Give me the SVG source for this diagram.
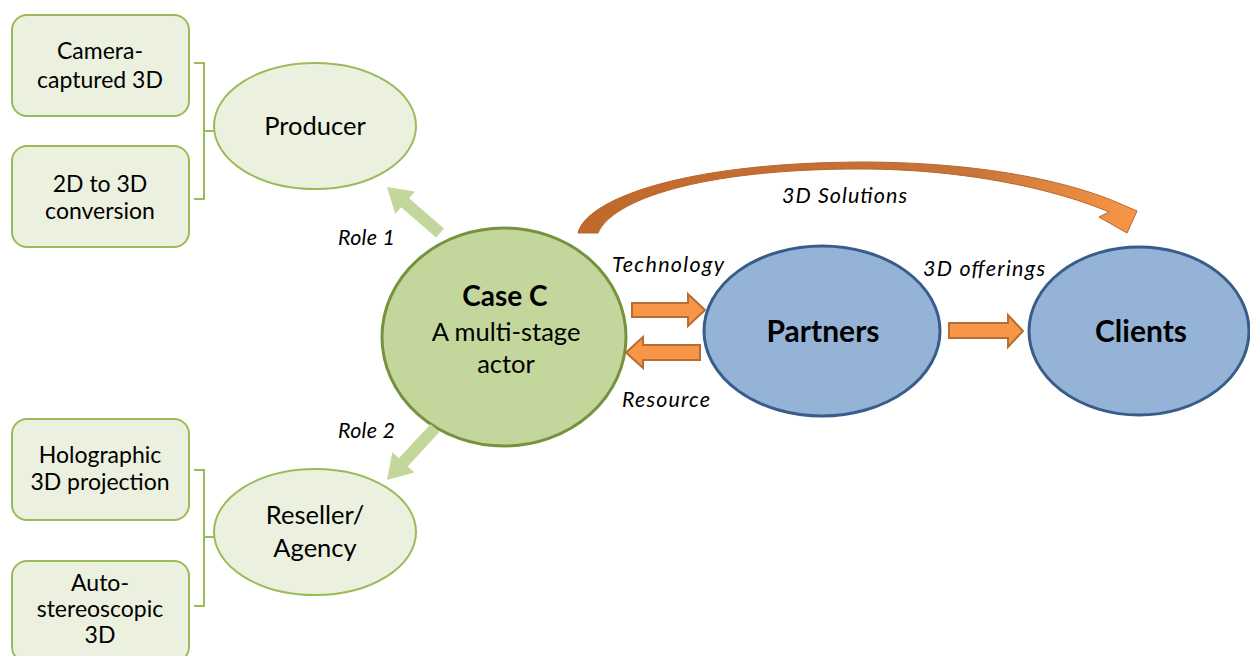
<svg xmlns="http://www.w3.org/2000/svg" width="1250" height="656" viewBox="0 0 1250 656">
  <defs>
    <style>
      text { font-family: Lato, "Liberation Sans", sans-serif; fill: #000; }
      .box { fill: #ebf1de; stroke: #9bbb59; stroke-width: 2; }
      .role { fill: #ebf1de; stroke: #9bbb59; stroke-width: 2; }
      .bracket { fill: none; stroke: #9bbb59; stroke-width: 2; }
      .core { fill: #c3d69b; stroke: #76923c; stroke-width: 3; }
      .blue { fill: #95b3d7; stroke: #385d8a; stroke-width: 3; }
      .t-box { font-size: 23px; text-anchor: middle; }
      .t-role { font-size: 25.5px; text-anchor: middle; }
      .t-big { font-size: 30px; font-weight: bold; text-anchor: middle; }
      .t-lbl { font-size: 21.5px; font-style: italic; }
      .blk { fill: #f79646; stroke: #b66d31; stroke-width: 2; stroke-linejoin: miter; }
      .grn { fill: #c3d69b; }
    </style>
    <linearGradient id="arcGrad" x1="578" y1="0" x2="1136" y2="0" gradientUnits="userSpaceOnUse">
      <stop offset="0" stop-color="#c0692b"/>
      <stop offset="0.7" stop-color="#c7743a"/>
      <stop offset="1" stop-color="#f79646"/>
    </linearGradient>
  </defs>

  <!-- technology boxes -->
  <g id="box-camera">
    <rect class="box" x="12" y="15" width="177" height="101" rx="15"/>
    <text class="t-box" x="100" y="59">Camera-</text>
    <text class="t-box" x="100" y="88">captured 3D</text>
  </g>
  <g id="box-conversion">
    <rect class="box" x="12" y="146" width="177" height="101" rx="15"/>
    <text class="t-box" x="100" y="192">2D to 3D</text>
    <text class="t-box" x="100" y="219">conversion</text>
  </g>
  <g id="box-holographic">
    <rect class="box" x="12" y="419" width="177" height="101" rx="15"/>
    <text class="t-box" x="100" y="463">Holographic</text>
    <text class="t-box" x="100" y="490">3D projection</text>
  </g>
  <g id="box-autostereo">
    <rect class="box" x="12" y="561" width="177" height="101" rx="15"/>
    <text class="t-box" x="100" y="591">Auto-</text>
    <text class="t-box" x="100" y="617">stereoscopic</text>
    <text class="t-box" x="100" y="643">3D</text>
  </g>

  <!-- role nodes -->
  <g id="node-producer">
    <ellipse class="role" cx="315" cy="126" rx="101" ry="63"/>
    <text class="t-role" x="315" y="135">Producer</text>
  </g>
  <g id="node-reseller">
    <ellipse class="role" cx="315" cy="532" rx="101" ry="63"/>
    <text class="t-role" x="315" y="524">Reseller/</text>
    <text class="t-role" x="315" y="557">Agency</text>
  </g>

  <!-- central actor -->
  <g id="node-casec">
    <ellipse class="core" cx="504" cy="337" rx="122" ry="109"/>
    <text x="505" y="306" style="font-size:28px;font-weight:bold;text-anchor:middle">Case C</text>
    <text class="t-role" x="506" y="341">A multi-stage</text>
    <text class="t-role" x="506" y="373">actor</text>
  </g>

  <g id="node-partners">
    <ellipse class="blue" cx="822" cy="331" rx="118" ry="85"/>
    <text class="t-big" x="823" y="342">Partners</text>
  </g>
  <g id="node-clients">
    <ellipse class="blue" cx="1139" cy="331" rx="110" ry="84"/>
    <text class="t-big" x="1141" y="342">Clients</text>
  </g>

  <!-- connectors -->
  <g id="connectors">
    <path class="bracket" d="M194,63 H204 V199 H194 M204,131 H214"/>
    <path class="bracket" d="M194,470 H204 V606 H194 M204,537 H214"/>

    <polygon class="grn" points="443.9,228.5 409,198.2 414.9,191.4 387,187 395.3,214 401.2,207.2 436.1,237.5"/>
    <polygon class="grn" points="439.4,432.1 407.7,466.5 414.3,472.6 387,480 392.3,452.2 398.9,458.3 430.6,423.9"/>

    <polygon class="blk" points="632,303 688,303 688,294 705,310 688,326 688,317 632,317"/>
    <polygon class="blk" points="700,345 643,345 643,337 626,352.5 643,368 643,360 700,360"/>
    <polygon class="blk" points="949,323 1008,323 1008,315 1023,331 1008,347 1008,338 949,338"/>

    <!-- curved "3D Solutions" arrow, tapering from its base to the head -->
    <path fill="url(#arcGrad)" stroke="#b8652a" stroke-width="1" stroke-linejoin="round"
          d="M578,233 C586,200 680,163 860,162 C980,162 1070,181 1123,205 L1137,211 L1127,233 L1099,217 L1109,212 C1060,191 970,169 860,169 C700,169 612,200 598,233 Z"/>

    <text class="t-lbl" x="338" y="245" textLength="57" lengthAdjust="spacing">Role 1</text>
    <text class="t-lbl" x="338" y="438" textLength="57" lengthAdjust="spacing">Role 2</text>
    <text class="t-lbl" x="612" y="272" textLength="112" lengthAdjust="spacing">Technology</text>
    <text class="t-lbl" x="622" y="407" textLength="88" lengthAdjust="spacing">Resource</text>
    <text class="t-lbl" x="782" y="203" textLength="125" lengthAdjust="spacing">3D Solutions</text>
    <text class="t-lbl" x="923" y="276" textLength="122" lengthAdjust="spacing">3D offerings</text>
  </g>
</svg>
